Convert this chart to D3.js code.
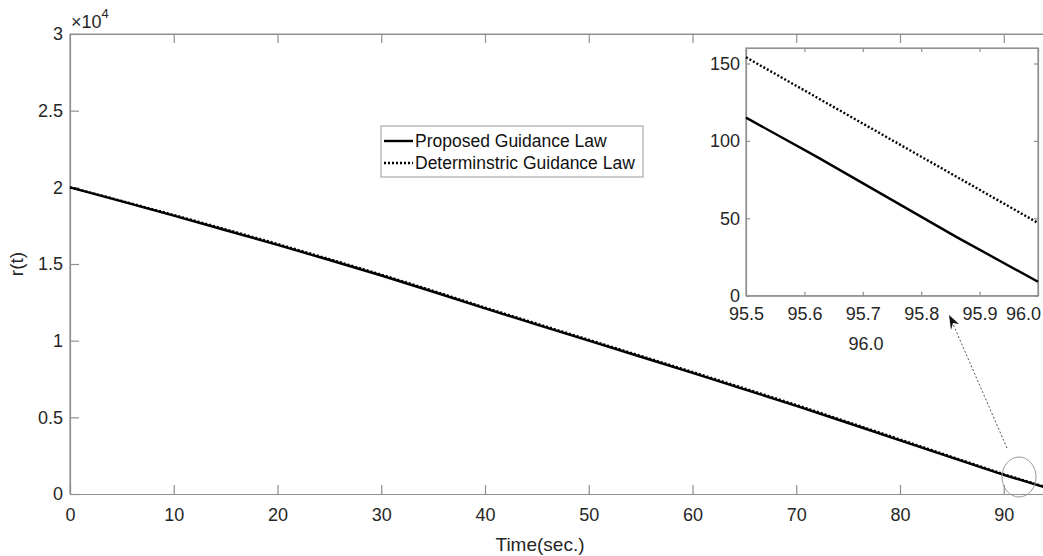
<!DOCTYPE html>
<html><head><meta charset="utf-8">
<script src="https://cdn.jsdelivr.net/npm/d3@7"></script>
<style>body{margin:0;background:#fff}svg{display:block;font-family:"Liberation Sans",Arial,sans-serif}</style>
</head><body>
<svg id="c" width="1043" height="556"></svg>
<script>
// ---- data ----
const mainTime = [0,5,10,15,20,25,30,35,40,45,50,55,60,65,70,75,80,85,90,96];
const proposedR = [20000,19080,18150,17200,16250,15260,14250,13190,12100,11050,10000,8950,7900,6830,5750,4630,3500,2370,1250,9];
const determR   = [20000,19110,18200,17260,16310,15320,14310,13250,12160,11110,10060,9010,7960,6890,5810,4690,3560,2420,1290,47];
const mainXTicks = [0,10,20,30,40,50,60,70,80,90];
const mainYTicks = [0,5000,10000,15000,20000,25000,30000];
const mainYTickLabels = ["0","0.5","1","1.5","2","2.5","3"];
const insetTimeP = [95.5,95.62,95.86,96.0];
const insetP = [115,90,38,9];
const insetTimeD = [95.5,96.0];
const insetD = [154,47];
const insetXTicks = [95.5,95.6,95.7,95.8,95.9,96.0];
const insetXTickLabels = ["95.5","95.6","95.7","95.8","95.9","96.0"];
const insetYTicks = [0,50,100,150];
const legendNames = ["Proposed Guidance Law","Determinstric Guidance Law"];

const svg = d3.select("#c");
const axisCol = "#8f8f8f", txtCol = "#262626";

// ---- main axes ----
const x = d3.scaleLinear().domain([0,96]).range([70,1066]);
const y = d3.scaleLinear().domain([0,30000]).range([494,34]);

svg.append("line").attr("x1",70).attr("x2",1066).attr("y1",34).attr("y2",34).attr("stroke",axisCol).attr("stroke-width",1.2);
svg.append("line").attr("x1",70).attr("x2",70).attr("y1",34).attr("y2",494).attr("stroke",axisCol).attr("stroke-width",1.2);

const xAxis = svg.append("g").attr("transform","translate(0,494)")
  .call(d3.axisBottom(x).tickValues(mainXTicks).tickSizeInner(-9).tickSizeOuter(0).tickPadding(14));
const xAxisTop = svg.append("g").attr("transform","translate(0,34)")
  .call(d3.axisTop(x).tickValues(mainXTicks.slice(1)).tickSizeInner(-9).tickSizeOuter(0).tickFormat(""));
const yAxis = svg.append("g").attr("transform","translate(70,0)")
  .call(d3.axisLeft(y).tickValues(mainYTicks).tickSizeInner(-9).tickSizeOuter(0).tickPadding(7)
    .tickFormat((d,i)=>mainYTickLabels[i]));
[xAxis,xAxisTop,yAxis].forEach(g=>{
  g.select(".domain").attr("stroke",axisCol).attr("stroke-width",1.2);
  g.selectAll(".tick line").attr("stroke",axisCol).attr("stroke-width",1.2);
  g.selectAll(".tick text").attr("fill",txtCol).attr("font-size",18).attr("font-family","Liberation Sans, Arial, sans-serif");
});
xAxis.selectAll(".tick text").attr("dy","0.71em");

const ex = svg.append("text").attr("x",71).attr("y",28).attr("fill",txtCol).attr("font-size",18);
ex.append("tspan").text("\u00d710");
ex.append("tspan").attr("dy",-10).attr("font-size",13).text("4");

svg.append("text").attr("x",540).attr("y",551).attr("text-anchor","middle").attr("fill",txtCol).attr("font-size",19).text("Time(sec.)");
svg.append("text").attr("transform","translate(23,264) rotate(-90)").attr("text-anchor","middle").attr("fill",txtCol).attr("font-size",19).text("r(t)");

const lineMain = d3.line().x(d=>x(d[0])).y(d=>y(d[1]));
svg.append("path").datum(mainTime.map((t,i)=>[t,determR[i]])).attr("d",lineMain)
  .attr("fill","none").attr("stroke","#000").attr("stroke-width",2.4).attr("stroke-dasharray","2,2");
svg.append("path").datum(mainTime.map((t,i)=>[t,proposedR[i]])).attr("d",lineMain)
  .attr("fill","none").attr("stroke","#000").attr("stroke-width",2.4);

// ---- legend ----
const lg = svg.append("g");
lg.append("rect").attr("x",381).attr("y",126).attr("width",262).attr("height",51).attr("fill","#fff").attr("stroke","#9a9a9a").attr("stroke-width",1);
legendNames.forEach((n,i)=>{
  const yy = 141 + i*22;
  lg.append("line").attr("x1",384).attr("x2",413).attr("y1",yy).attr("y2",yy).attr("stroke","#000").attr("stroke-width",2.4)
    .attr("stroke-dasharray", i===1 ? "2,2" : null);
  lg.append("text").attr("x",415).attr("y",yy+6).attr("fill","#111").attr("font-size",17.5).text(n);
});

// ---- annotation ----
svg.append("ellipse").attr("cx",1019).attr("cy",477).attr("rx",17).attr("ry",20).attr("fill","none").attr("stroke","#999").attr("stroke-width",1);
svg.append("line").attr("x1",1007).attr("y1",448).attr("x2",953).attr("y2",324).attr("stroke","#555").attr("stroke-width",1).attr("stroke-dasharray","2,2");
svg.append("path").attr("d","M949,315 L959,324 L953,323 L951,330 Z").attr("fill","#111");

// ---- inset ----
const ix = d3.scaleLinear().domain([95.5,96.0]).range([746,1038]);
const iy = d3.scaleLinear().domain([0,160]).range([295.7,48]);
svg.append("rect").attr("x",746).attr("y",48).attr("width",292).attr("height",247.7).attr("fill","#fff").attr("stroke",axisCol).attr("stroke-width",1.2);
const ixAxis = svg.append("g").attr("transform","translate(0,295.7)")
  .call(d3.axisBottom(ix).tickValues(insetXTicks).tickSizeInner(-4).tickSizeOuter(0).tickPadding(12)
    .tickFormat((d,i)=>insetXTickLabels[i]));
const ixTop = svg.append("g").attr("transform","translate(0,48)")
  .call(d3.axisTop(ix).tickValues(insetXTicks).tickSizeInner(-4).tickSizeOuter(0).tickFormat(""));
const iyAxis = svg.append("g").attr("transform","translate(746,0)")
  .call(d3.axisLeft(iy).tickValues(insetYTicks).tickSizeInner(-4).tickSizeOuter(0).tickPadding(6));
const iyRight = svg.append("g").attr("transform","translate(1038,0)")
  .call(d3.axisRight(iy).tickValues(insetYTicks).tickSizeInner(-4).tickSizeOuter(0).tickFormat(""));
[ixAxis,ixTop,iyAxis,iyRight].forEach(g=>{
  g.select(".domain").attr("stroke",axisCol).attr("stroke-width",1.2);
  g.selectAll(".tick line").attr("stroke",axisCol).attr("stroke-width",1.2);
  g.selectAll(".tick text").attr("fill",txtCol).attr("font-size",18).attr("font-family","Liberation Sans, Arial, sans-serif");
});
// last inset tick label shifted left so that it stays inside the window
ixAxis.selectAll(".tick text").filter((d,i)=>i===insetXTicks.length-1).attr("x",-15);
svg.append("text").attr("x",866).attr("y",350).attr("text-anchor","middle").attr("fill",txtCol).attr("font-size",18).text("96.0");

const lineIn = d3.line().x(d=>ix(d[0])).y(d=>iy(d[1]));
svg.append("path").datum(insetTimeD.map((t,i)=>[t,insetD[i]])).attr("d",lineIn)
  .attr("fill","none").attr("stroke","#000").attr("stroke-width",2.4).attr("stroke-dasharray","2,2");
svg.append("path").datum(insetTimeP.map((t,i)=>[t,insetP[i]])).attr("d",lineIn)
  .attr("fill","none").attr("stroke","#000").attr("stroke-width",2.4);
</script>
</body></html>
